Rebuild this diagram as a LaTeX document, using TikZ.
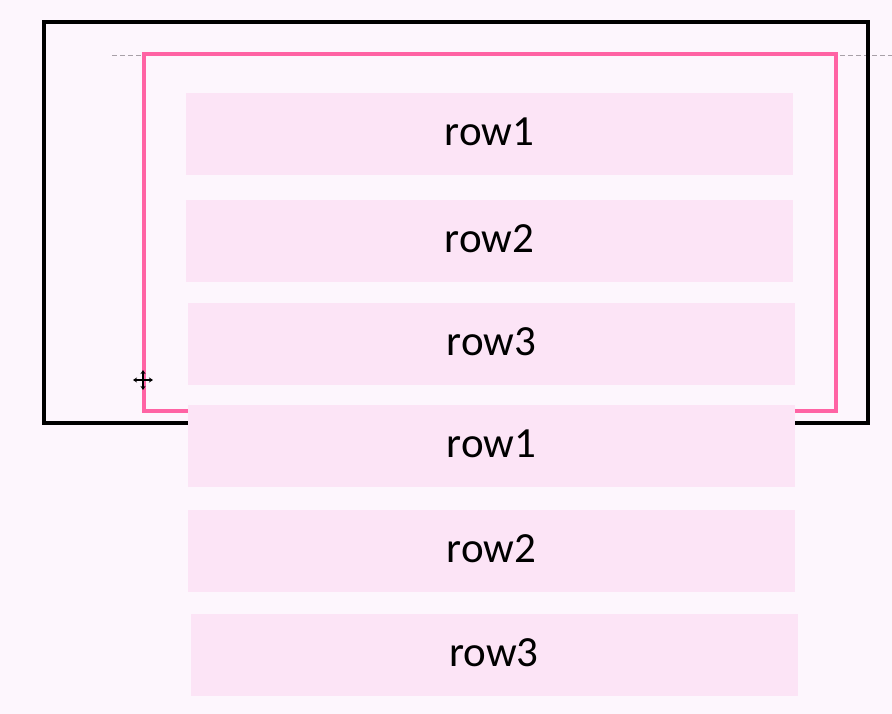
\documentclass[tikz,border=0pt]{standalone}
\usepackage{fontspec}
\setmainfont{Carlito}
\usetikzlibrary{arrows.meta}
\definecolor{bgc}{HTML}{FDF6FD}
\definecolor{rowc}{HTML}{FCE4F6}
\definecolor{pinkc}{HTML}{FF63A4}
\definecolor{dashc}{HTML}{A8A0A8}
\tikzset{
  rowbox/.style={fill=rowc, draw=none, minimum width=607pt, minimum height=82pt, inner sep=0pt},
  rowtext/.style={font=\fontsize{43}{48}\selectfont, text=black, inner sep=0pt},
  outerframe/.style={draw=black, line width=4pt},
  innerframe/.style={draw=pinkc, line width=3.6pt},
  guide/.style={draw=dashc, line width=0.8pt, dash pattern=on 5pt off 3pt},
  curarrow/.style={-{Stealth[length=4pt,width=5pt]}, line width=1.3pt}
}
\begin{document}
\begin{tikzpicture}[x=1pt,y=-1pt]
\useasboundingbox (0,0) rectangle (892,714);
\fill[bgc] (0,0) rectangle (892,714);
% dashed guide line
\coordinate (gl) at (112,55);
\coordinate (gr) at (892,55);
\draw[guide] (gl) -- (gr);
% frames
\draw[outerframe] (44,22) rectangle (868,423);
\draw[innerframe] (144,54) rectangle (836,411);
% rows
\node[rowbox] (r1) at (489.5,134) {};
\node[rowbox] (r2) at (489.5,241) {};
\node[rowbox] (r3) at (491.5,343.5) {};
\node[rowbox] (r4) at (491.5,446) {};
\node[rowbox] (r5) at (491.5,551) {};
\node[rowbox] (r6) at (494,654.5) {};
\node[rowtext] (t1) at ([yshift=2pt]r1.center) {row1};
\node[rowtext] (t2) at ([yshift=2pt]r2.center) {row2};
\node[rowtext] (t3) at ([yshift=2pt]r3.center) {row3};
\node[rowtext] (t4) at ([yshift=2pt]r4.center) {row1};
\node[rowtext] (t5) at ([yshift=2pt]r5.center) {row2};
\node[rowtext] (t6) at ([yshift=2pt]r6.center) {row3};
% move cursor
\coordinate (cc) at (143,380);
\draw[curarrow] (cc) -- ++(-10,0);
\draw[curarrow] (cc) -- ++(10,0);
\draw[curarrow] (cc) -- ++(0,-10);
\draw[curarrow] (cc) -- ++(0,10);
\end{tikzpicture}
\end{document}
